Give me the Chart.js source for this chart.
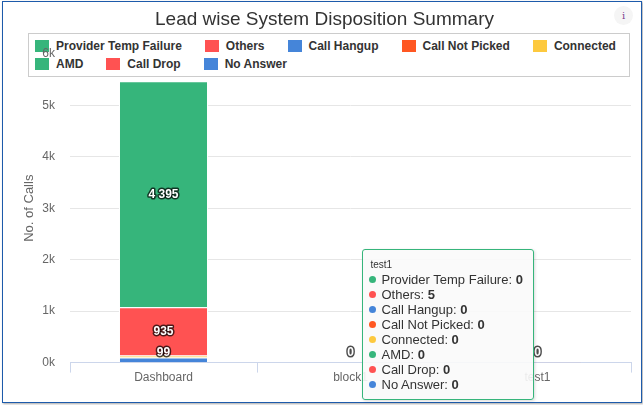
<!DOCTYPE html>
<html>
<head>
<meta charset="utf-8">
<script src="https://cdn.jsdelivr.net/npm/chart.js@4.4.1/dist/chart.umd.min.js"></script>
<style>
  html, body { margin: 0; padding: 0; background: #fff; }
  #wrap { position: relative; width: 643px; height: 405px; font-family: 'Liberation Sans', Arial, sans-serif; }
  #frame { position: absolute; left: 2px; top: 1px; width: 638px; height: 400px; border: 1px solid #1d5bab; box-shadow: 1px 1px 2px rgba(0,0,0,.35); }
  #legend { position: absolute; left: 28px; top: 33px; width: 602px; height: 44px; border: 1px solid #ccc; background: #fff;
            display: flex; flex-wrap: wrap; align-content: flex-start; column-gap: 23px; padding: 3px 0 0 6px; box-sizing: border-box; }
  #legend .item { display: flex; align-items: center; height: 18px; font: bold 12px 'Liberation Sans', Arial, sans-serif; color: #333; white-space: nowrap; cursor: pointer; }
  #legend .item.off { color: #ccc; }
  #legend .box { width: 14px; height: 12px; margin-right: 7px; }
  canvas { position: absolute; left: 0; top: 0; z-index: 1; }
  #info { position: absolute; left: 614px; top: 6px; width: 19px; height: 19px; border-radius: 50%; background: #f5f5f5;
          text-align: center; font: 10px 'DejaVu Serif', serif; line-height: 19px; color: #7b3f8f; z-index: 2; }
  #tip { position: absolute; display: none; z-index: 3; background: rgba(249,249,249,.9); border: 1px solid #36b57b; border-radius: 3px;
         padding: 7px 10px 7px 6px; font: 13px 'Liberation Sans', Arial, sans-serif; color: #333; line-height: 15px; white-space: nowrap;
         box-shadow: 1px 1px 3px rgba(0,0,0,.15); pointer-events: none; }
  #tip .t { font-size: 10px; padding-left: 2px; }
  #tip .dot { display: inline-block; width: 7px; height: 7px; border-radius: 50%; margin: 0 6px 1px 0; vertical-align: middle; }
</style>
</head>
<body>
<div id="wrap">
  <div id="frame"></div>
  <div id="legend"></div>
  <canvas id="chart" width="643" height="405"></canvas>
  <div id="info">i</div>
  <div id="tip"></div>
</div>
<script>
// categories + one array per disposition (legend order)
const categories = ['Dashboard', 'block1', 'test1'];
const providerTempFailure = [4395, 0, 0];
const others        = [935, 0, 5];
const callHangup    = [0, 0, 0];
const callNotPicked = [0, 0, 0];
const connected     = [40, 0, 0];
const amd           = [0, 0, 0];
const callDrop      = [0, 0, 0];
const noAnswer      = [99, 0, 0];

const yTickValues = [0, 1000, 2000, 3000, 4000, 5000, 6000];
const yTickLabels = ['0k', '1k', '2k', '3k', '4k', '5k', '6k'];

const series = [
  {label: 'Provider Temp Failure', data: providerTempFailure, color: '#36b57b'},
  {label: 'Others',          data: others,        color: '#ff5252'},
  {label: 'Call Hangup',     data: callHangup,    color: '#4585d9'},
  {label: 'Call Not Picked', data: callNotPicked, color: '#ff5722'},
  {label: 'Connected',       data: connected,     color: '#fdc93e'},
  {label: 'AMD',             data: amd,           color: '#36b57b'},
  {label: 'Call Drop',       data: callDrop,      color: '#ff5252'},
  {label: 'No Answer',       data: noAnswer,      color: '#4585d9', labelAlways: true}
];

const fmt = v => String(v).replace(/\B(?=(\d{3})+(?!\d))/g, ' ');
const FONT = "'Liberation Sans', Arial, sans-serif";

// first series sits on top of the stack, so feed them to chart.js reversed
const datasets = series.slice().reverse().map(s => ({
  label: s.label,
  data: s.data,
  backgroundColor: s.color,
  borderColor: '#fff',
  borderWidth: 1,
  labelAlways: !!s.labelAlways
}));

const stackLabels = {
  id: 'stackLabels',
  afterDatasetsDraw(chart) {
    const ctx = chart.ctx;
    const base = chart.scales.y.getPixelForValue(0);
    ctx.save();
    ctx.font = 'bold 12px ' + FONT;
    ctx.textAlign = 'center';
    ctx.textBaseline = 'middle';
    ctx.lineJoin = 'round';
    chart.data.datasets.forEach((ds, di) => {
      const meta = chart.getDatasetMeta(di);
      if (meta.hidden) return;
      meta.data.forEach((bar, i) => {
        const h = Math.abs(bar.base - bar.y);
        if (!ds.labelAlways && h < 16) return;
        const y = Math.min((bar.y + bar.base) / 2, base - 10);
        const txt = fmt(ds.data[i]);
        ctx.lineWidth = 3;
        ctx.strokeStyle = 'rgba(0,0,0,.7)';
        ctx.strokeText(txt, bar.x, y);
        ctx.fillStyle = '#fff';
        ctx.fillText(txt, bar.x, y);
      });
    });
    ctx.restore();
  }
};

function externalTip({chart, tooltip}) {
  const el = document.getElementById('tip');
  if (tooltip.opacity === 0 || !tooltip.dataPoints) { el.style.display = 'none'; return; }
  const pts = tooltip.dataPoints.slice().sort((a, b) => b.datasetIndex - a.datasetIndex);
  let html = `<div class="t">${tooltip.title[0]}</div>`;
  pts.forEach(p => {
    html += `<div><span class="dot" style="background:${p.dataset.backgroundColor}"></span>${p.dataset.label}: <b>${fmt(p.raw)}</b></div>`;
  });
  el.innerHTML = html;
  el.style.borderColor = pts[0].dataset.backgroundColor;
  el.style.display = 'block';
  el.style.left = (tooltip.caretX - el.offsetWidth - 4) + 'px';
  el.style.top = (tooltip.caretY - 114) + 'px';
}

const chart = new Chart(document.getElementById('chart').getContext('2d'), {
  type: 'bar',
  data: {labels: categories, datasets: datasets},
  options: {
    responsive: false,
    animation: false,
    layout: {padding: {left: 18, right: 12, top: 0, bottom: 22}},
    datasets: {bar: {categoryPercentage: 1, barPercentage: 0.476}},
    interaction: {mode: 'index', intersect: false},
    plugins: {
      legend: {display: false},
      title: {
        display: true,
        text: 'Lead wise System Disposition Summary',
        color: '#333',
        font: {family: FONT, size: 19, weight: 'normal'},
        padding: {top: 8, bottom: 23}
      },
      tooltip: {enabled: false, external: externalTip}
    },
    scales: {
      x: {
        stacked: true,
        grid: {offset: true, drawOnChartArea: false, drawTicks: true, tickLength: 10, color: '#ccd6eb'},
        border: {color: '#ccd6eb'},
        ticks: {color: '#666', padding: -2, font: {family: FONT, size: 12}}
      },
      y: {
        stacked: true,
        min: 0,
        max: 6000,
        afterBuildTicks: ax => { ax.ticks = yTickValues.map(v => ({value: v})); },
        afterFit: ax => { ax.width = 52; },
        grid: {drawTicks: false, color: c => c.tick && c.tick.value === 6000 ? 'rgba(0,0,0,0)' : '#e6e6e6'},
        border: {display: false},
        ticks: {color: '#666', padding: 15, font: {family: FONT, size: 12}, callback: (v, i) => yTickLabels[i]},
        title: {display: true, text: 'No. of Calls', color: '#666', font: {family: FONT, size: 13}, padding: 4}
      }
    }
  },
  plugins: [stackLabels]
});

// html legend, drawn in series order
const legend = document.getElementById('legend');
series.forEach((s, k) => {
  const item = document.createElement('div');
  item.className = 'item';
  item.innerHTML = `<span class="box" style="background:${s.color}"></span>${s.label}`;
  item.onclick = () => {
    const di = series.length - 1 - k;
    const vis = chart.isDatasetVisible(di);
    chart.setDatasetVisibility(di, !vis);
    item.classList.toggle('off', vis);
    chart.update();
  };
  legend.appendChild(item);
});

// show the shared tooltip for test1 as in the screenshot
const idx = categories.indexOf('test1');
chart.tooltip.setActiveElements(datasets.map((d, i) => ({datasetIndex: i, index: idx})), {x: 0, y: 0});
</script>
</body>
</html>
